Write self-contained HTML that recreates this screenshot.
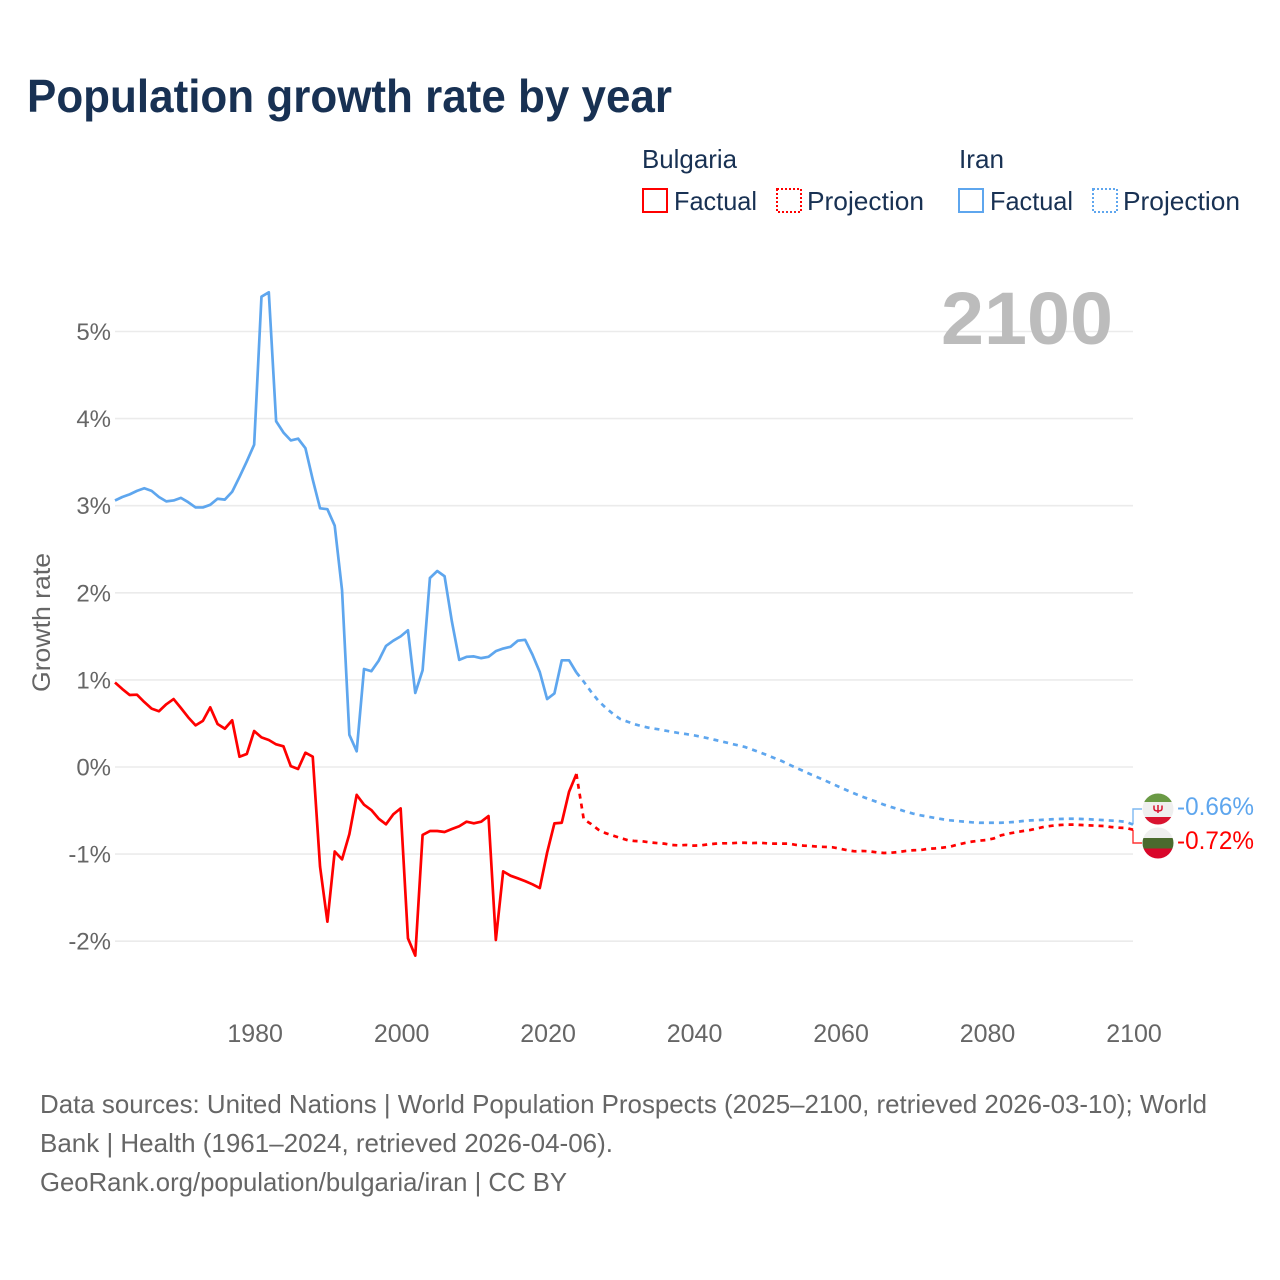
<!DOCTYPE html>
<html lang="en">
<head>
<meta charset="utf-8">
<title>Population growth rate by year</title>
<style>
html,body{margin:0;padding:0;background:#fff;}
svg{display:block;}
text{font-family:"Liberation Sans",sans-serif;}
</style>
</head>
<body>
<svg id="chart" width="1280" height="1280" viewBox="0 0 1280 1280" xmlns="http://www.w3.org/2000/svg">
  <defs>
    <clipPath id="clip-iran"><circle cx="1158" cy="809" r="15.5"/></clipPath>
    <clipPath id="clip-bulgaria"><circle cx="1158" cy="843" r="15.5"/></clipPath>
  </defs>
  <rect x="0" y="0" width="1280" height="1280" fill="#ffffff"/>
  <text x="27" y="112" font-size="46" font-weight="700" fill="#183153" textLength="645" lengthAdjust="spacingAndGlyphs">Population growth rate by year</text>

  <g font-size="26" fill="#183153">
    <text x="642" y="168" textLength="95" lengthAdjust="spacingAndGlyphs">Bulgaria</text>
    <text x="959" y="168" textLength="45" lengthAdjust="spacingAndGlyphs">Iran</text>
    <rect x="643" y="189" width="24" height="23" fill="none" stroke="#ff0000" stroke-width="2"/>
    <text x="674" y="210" textLength="83" lengthAdjust="spacingAndGlyphs">Factual</text>
    <rect x="777" y="189" width="24" height="23" fill="none" stroke="#ff0000" stroke-width="2" stroke-dasharray="2 2"/>
    <text x="807" y="210" textLength="117" lengthAdjust="spacingAndGlyphs">Projection</text>
    <rect x="959" y="189" width="24" height="23" fill="none" stroke="#5ea6ee" stroke-width="2"/>
    <text x="990" y="210" textLength="83" lengthAdjust="spacingAndGlyphs">Factual</text>
    <rect x="1093" y="189" width="24" height="23" fill="none" stroke="#5ea6ee" stroke-width="2" stroke-dasharray="2 2"/>
    <text x="1123" y="210" textLength="117" lengthAdjust="spacingAndGlyphs">Projection</text>
  </g>

  <text transform="translate(50,692) rotate(-90)" font-size="25" fill="#666666" textLength="139" lengthAdjust="spacingAndGlyphs">Growth rate</text>
  <g id="grid"></g>
  <g id="yticks"></g>
  <g id="xticks"></g>

  <text x="1113" y="344" text-anchor="end" font-size="74" font-weight="700" fill="#bcbcbc" textLength="172" lengthAdjust="spacingAndGlyphs">2100</text>

  <g id="series"></g>

  <g clip-path="url(#clip-iran)">
    <rect x="1142" y="793" width="32" height="9" fill="#6a9a45"/>
    <rect x="1142" y="802" width="32" height="15" fill="#efefef"/>
    <rect x="1142" y="817" width="32" height="9" fill="#d9132f"/>
    <path d="M1154 805.5v3q0 2.5 4 2.5t4-2.5v-3M1158 805v8" fill="none" stroke="#d9132f" stroke-width="1.5"/>
  </g>
  <g clip-path="url(#clip-bulgaria)">
    <rect x="1142" y="827" width="32" height="11" fill="#efefef"/>
    <rect x="1142" y="838" width="32" height="10.500" fill="#4a6a2e"/>
    <rect x="1142" y="848.500" width="32" height="11" fill="#d9062a"/>
  </g>

  <g font-size="26" fill="#666666">
    <text x="40" y="1113" textLength="1167" lengthAdjust="spacingAndGlyphs">Data sources: United Nations | World Population Prospects (2025–2100, retrieved 2026-03-10); World</text>
    <text x="40" y="1152" textLength="573" lengthAdjust="spacingAndGlyphs">Bank | Health (1961–2024, retrieved 2026-04-06).</text>
    <text x="40" y="1191" textLength="527" lengthAdjust="spacingAndGlyphs">GeoRank.org/population/bulgaria/iran | CC BY</text>
  </g>
</svg>
<script>
const yTickValues = [5, 4, 3, 2, 1, 0, -1, -2];
const xTickYears = [1980, 2000, 2020, 2040, 2060, 2080, 2100];
const firstYear = 1961;
const iranFactual = [3.06,3.10,3.13,3.17,3.20,3.17,3.10,3.05,3.06,3.09,3.04,2.98,2.98,3.01,3.08,3.07,3.16,3.33,3.51,3.70,5.40,5.45,3.97,3.84,3.75,3.77,3.66,3.30,2.97,2.96,2.77,2.03,0.37,0.18,1.125,1.10,1.22,1.39,1.45,1.50,1.57,0.85,1.11,2.17,2.25,2.19,1.67,1.23,1.265,1.27,1.25,1.265,1.33,1.36,1.38,1.45,1.46,1.29,1.09,0.78,0.845,1.225,1.225,1.085];
const iranProjection = [0.98,0.865,0.76,0.68,0.61,0.55,0.52,0.49,0.467,0.448,0.436,0.42,0.405,0.39,0.378,0.364,0.348,0.33,0.31,0.29,0.27,0.25,0.23,0.20,0.17,0.138,0.103,0.07,0.03,-0.01,-0.046,-0.085,-0.12,-0.157,-0.195,-0.233,-0.27,-0.306,-0.34,-0.37,-0.40,-0.433,-0.46,-0.486,-0.513,-0.536,-0.555,-0.57,-0.585,-0.60,-0.612,-0.62,-0.628,-0.635,-0.64,-0.64,-0.64,-0.64,-0.635,-0.63,-0.62,-0.613,-0.61,-0.605,-0.60,-0.597,-0.594,-0.594,-0.597,-0.60,-0.605,-0.61,-0.615,-0.62,-0.63,-0.66];
const bulgariaFactual = [0.97,0.895,0.827,0.83,0.746,0.67,0.64,0.72,0.78,0.677,0.57,0.478,0.53,0.685,0.494,0.44,0.536,0.118,0.15,0.413,0.34,0.31,0.26,0.237,0.01,-0.023,0.164,0.118,-1.145,-1.776,-0.97,-1.06,-0.77,-0.32,-0.433,-0.494,-0.593,-0.658,-0.543,-0.475,-1.967,-2.166,-0.78,-0.735,-0.735,-0.746,-0.712,-0.68,-0.628,-0.647,-0.628,-0.563,-1.986,-1.198,-1.248,-1.278,-1.31,-1.347,-1.39,-0.984,-0.647,-0.64,-0.284,-0.08];
const bulgariaProjection = [-0.60,-0.654,-0.72,-0.76,-0.788,-0.815,-0.84,-0.85,-0.853,-0.865,-0.873,-0.88,-0.895,-0.90,-0.895,-0.903,-0.90,-0.888,-0.88,-0.876,-0.876,-0.87,-0.87,-0.873,-0.87,-0.876,-0.88,-0.88,-0.88,-0.895,-0.903,-0.907,-0.915,-0.918,-0.922,-0.938,-0.956,-0.968,-0.964,-0.968,-0.98,-0.987,-0.984,-0.976,-0.964,-0.956,-0.953,-0.94,-0.934,-0.926,-0.915,-0.892,-0.873,-0.857,-0.846,-0.838,-0.82,-0.784,-0.765,-0.75,-0.735,-0.723,-0.704,-0.685,-0.674,-0.666,-0.662,-0.662,-0.666,-0.67,-0.674,-0.677,-0.689,-0.697,-0.70,-0.72];

const NS = 'http://www.w3.org/2000/svg';
const RED = '#ff0000';
const BLUE = '#5ea6ee';
function xScale(year) { return 115 + (year - 1961) * (1133 - 115) / (2100 - 1961); }
function yScale(v) { return 767 - v * 87.1; }
function make(tag, attrs, parent) {
  const el = document.createElementNS(NS, tag);
  for (const k in attrs) el.setAttribute(k, attrs[k]);
  parent.appendChild(el);
  return el;
}
function pathFrom(startYear, values) {
  return values.map(function (v, i) {
    return (i ? 'L' : 'M') + xScale(startYear + i).toFixed(2) + ' ' + yScale(v).toFixed(2);
  }).join('');
}

const gridG = document.getElementById('grid');
const yG = document.getElementById('yticks');
const xG = document.getElementById('xticks');
const seriesG = document.getElementById('series');

yTickValues.forEach(function (v) {
  const line = make('line', {x1: 115, x2: 1133, y1: yScale(v), y2: yScale(v), stroke: '#ebebeb', 'stroke-width': 1.6}, gridG);
  
  
  const t = make('text', {x: 111, y: yScale(v) + 8.5, 'text-anchor': 'end', 'font-size': 24, fill: '#666666'}, yG);
  
  
  t.textContent = v + '%';
});
xTickYears.forEach(function (yr) {
  const t = make('text', {x: xScale(yr) + 1, y: 1042, 'text-anchor': 'middle', 'font-size': 25, fill: '#666666'}, xG);
  
  
  t.textContent = yr;
});

function drawSeries(name, color, factual, projection, labelY, flagY) {
  const lastFactualYear = firstYear + factual.length - 1;
  const lastFactual = factual[factual.length - 1];
  const proj = make('path', {d: pathFrom(lastFactualYear, [lastFactual].concat(projection)), fill: 'none', stroke: color, 'stroke-width': 2.7, 'stroke-dasharray': '5 5'}, seriesG);
  
  
  const fact = make('path', {d: pathFrom(firstYear, factual), fill: 'none', stroke: color, 'stroke-width': 2.7, 'stroke-linejoin': 'round'}, seriesG);
  
  
  const last = projection[projection.length - 1];
  const conn = make('path', {d: 'M1133 ' + yScale(last).toFixed(1) + 'V' + flagY + 'H1142', fill: 'none', stroke: color, 'stroke-width': 1.4, 'stroke-opacity': 0.8}, seriesG);
  
  
  const lab = make('text', {x: 1177, y: labelY, 'font-size': 25, fill: color, textLength: 77, lengthAdjust: 'spacingAndGlyphs'}, seriesG);
  
  
  lab.textContent = last.toFixed(2) + '%';
}
drawSeries('iran', BLUE, iranFactual, iranProjection, 815, 809);
drawSeries('bulgaria', RED, bulgariaFactual, bulgariaProjection, 849, 843);
</script>
</body>
</html>
